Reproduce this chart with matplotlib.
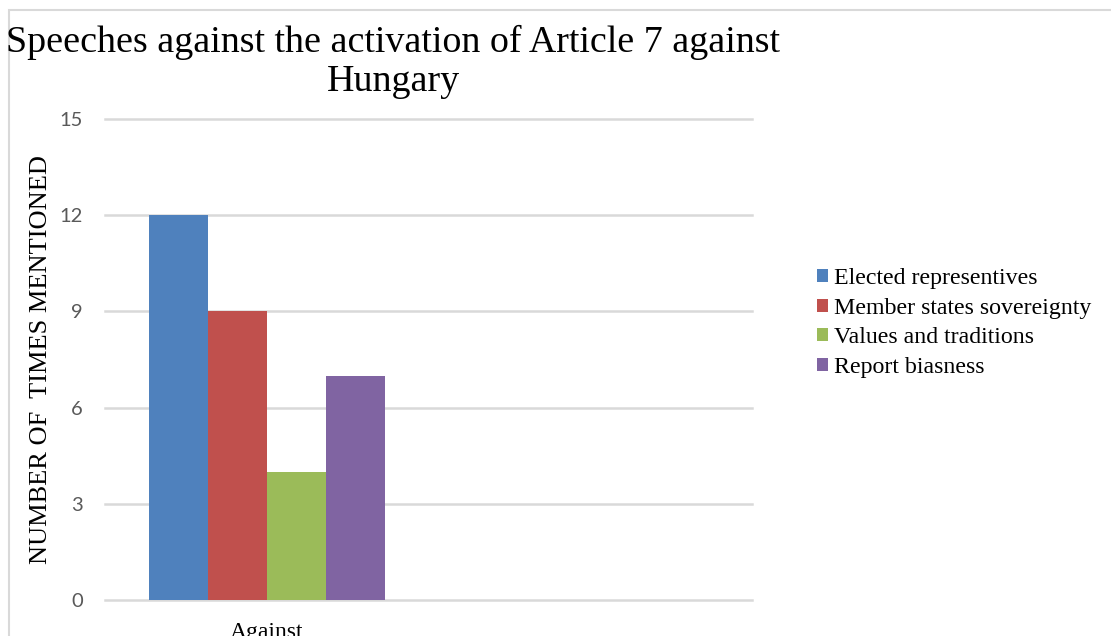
import matplotlib
matplotlib.use("Agg")
import matplotlib.pyplot as plt
from matplotlib.patches import Rectangle, Patch
import numpy as np

categories = ["Against", ""]
series_names = ["Elected representives", "Member states sovereignty",
                "Values and traditions", "Report biasness"]
values = {
    "Elected representives": [12, 0],
    "Member states sovereignty": [9, 0],
    "Values and traditions": [4, 0],
    "Report biasness": [7, 0],
}
colors = ["#4F81BD", "#C0504D", "#9BBB59", "#8064A2"]
yticks = [0, 3, 6, 9, 12, 15]

serif = ["Liberation Serif", "DejaVu Serif"]
sans = ["Lato", "Open Sans", "DejaVu Sans"]

fig = plt.figure(figsize=(11.11, 6.36), dpi=100)
ax = fig.add_axes([105/1111, 1-600/636, (752-105)/1111, (600-119)/636])

x = np.arange(len(categories))
w = 0.1824
for i, (name, c) in enumerate(zip(series_names, colors)):
    vals = values[name]
    ax.bar(x + (i - 1.5) * w, vals, width=w, color=c, zorder=3)

ax.set_xlim(-0.5, len(categories) - 0.5)
ax.set_ylim(0, 15)
ax.set_yticks(yticks)
ax.set_yticklabels([str(t) for t in yticks], family=sans, fontsize=14.5, color="#595959")
ax.set_xticks([0])
ax.set_xticklabels([categories[0]], family=serif, fontsize=17, color="black")
ax.tick_params(axis="y", length=0, pad=16)
ax.tick_params(axis="x", length=0, pad=16)
for s in ax.spines.values():
    s.set_visible(False)
ax.grid(axis="y", color="#d9d9d9", linewidth=1.8, zorder=0)
ax.set_axisbelow(True)
for gl in ax.get_ygridlines():
    gl.set_clip_on(False)

ax.set_ylabel("NUMBER OF  TIMES MENTIONED", family=serif, fontsize=19, labelpad=5)

fig.text(393/1111, 1-25/636, "Speeches against the activation of Article 7 against\nHungary",
         ha="center", va="top", family=serif, fontsize=27.4, linespacing=1.18)

handles = [Patch(facecolor=c, edgecolor="none") for c in colors]
fig.legend(handles, series_names, loc="upper left", bbox_to_anchor=(817/1111, 1-268/636),
           frameon=False, prop={"family": serif, "size": 17.2},
           handlelength=0.45, handleheight=0.45, handletextpad=0.25, labelspacing=0.36,
           borderaxespad=0, borderpad=0)

fig.patches.append(Rectangle((9/1111, -0.1), 1.2, 1 - 10/636 + 0.1, transform=fig.transFigure,
                             fill=False, edgecolor="#d9d9d9", linewidth=1.5))

fig.savefig("out.png", dpi=100)
